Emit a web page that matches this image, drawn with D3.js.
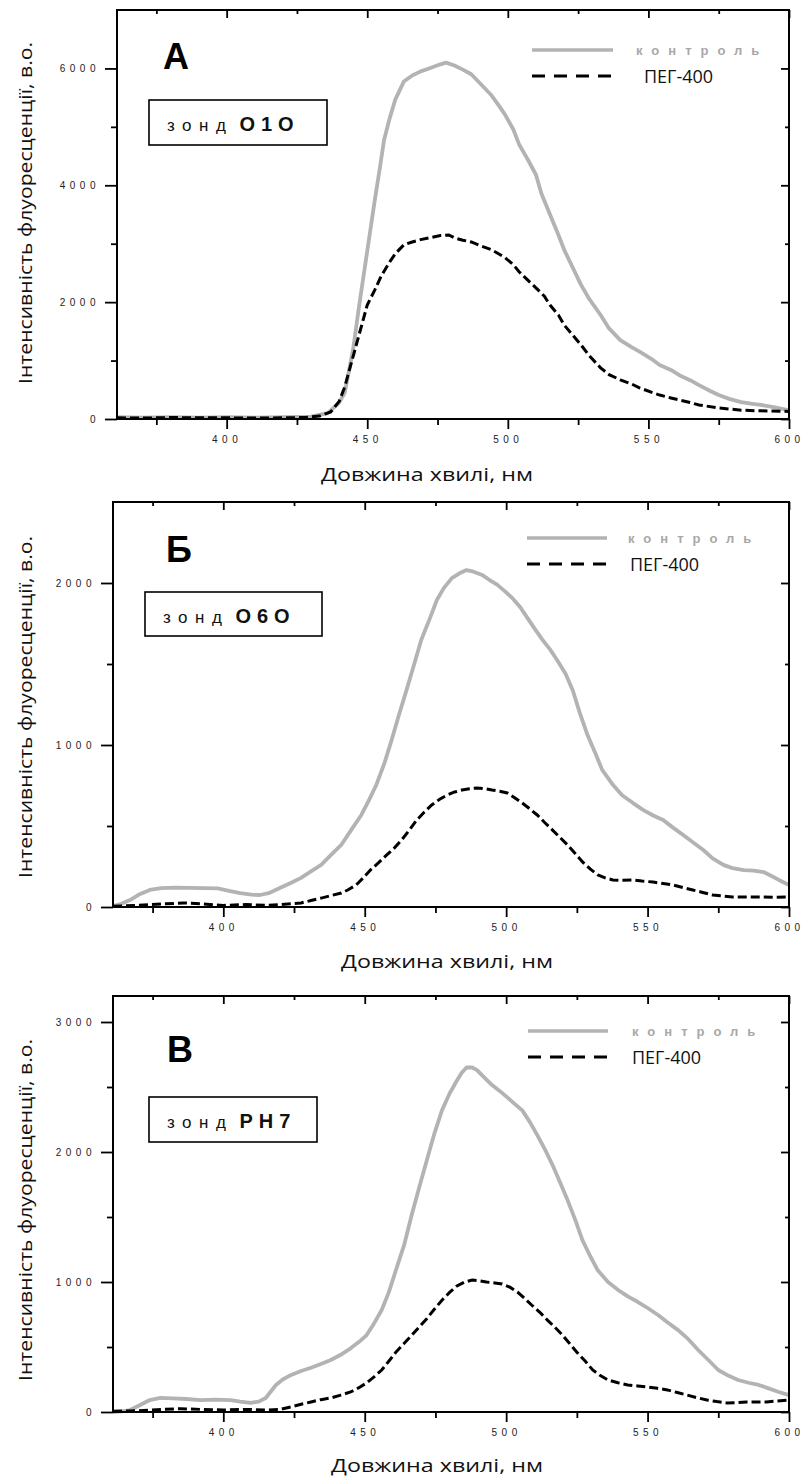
<!DOCTYPE html>
<html><head><meta charset="utf-8">
<script src="https://cdn.jsdelivr.net/npm/d3@7"></script>
<style>body{margin:0;background:#fff}</style>
</head><body>
<svg id="c" width="806" height="1479" xmlns="http://www.w3.org/2000/svg"></svg>
<script>
// ---------- text / tick data ----------
const seriesNames = ["контроль", "ПЕГ-400"];
const yTitle = "Інтенсивність флуоресценції, в.о.";
const xTitle = "Довжина хвилі, нм";
const panelLetters = ["А", "Б", "В"];
const probeWord = "зонд";
const probeNames = ["О1О", "О6О", "РН7"];
const xDomain = [361, 600];
const xMajor = [400, 450, 500, 550, 600];
const xMinor = [375, 425, 475, 525, 575];
const xTickLabels = ["400", "450", "500", "550", "600"];

const yMaxA = 7000, yMajorA = [0, 2000, 4000, 6000], yMinorA = [1000, 3000, 5000], yLabelsA = ["0", "2000", "4000", "6000"];
const yMaxB = 2500, yMajorB = [0, 1000, 2000], yMinorB = [500, 1500], yLabelsB = ["0", "1000", "2000"];
const yMaxC = 3200, yMajorC = [0, 1000, 2000, 3000], yMinorC = [500, 1500, 2500], yLabelsC = ["0", "1000", "2000", "3000"];

// ---------- series (wavelength nm, intensity) ----------
const wlCtrlA = [361,370,380,390,400,410,420,430,436,440,442,445,447,449,451,452.7,454.5,456,458,460,463,466,469,472,476,478,481,484,487,490,494,497,499,502,504,507,510,512,515,518,520,523,526,529,533,536,540,544,547,551,554,558,561,565,568,572,575,579,583,587,590,595,600];
const ctrlA   = [30,25,30,25,30,25,30,40,100,280,450,1200,1900,2550,3200,3750,4300,4780,5150,5470,5775,5880,5950,6000,6070,6100,6050,5980,5900,5750,5550,5350,5210,4950,4700,4450,4180,3850,3500,3150,2900,2600,2300,2050,1780,1550,1350,1230,1150,1030,925,840,750,660,580,480,410,340,290,260,240,200,150];
const wlPegA = [361,370,380,390,400,410,420,428,433,437,440,442,444,446,448,450,452.7,455,458,460,463,466,469,472,476,479,481,484,487,490,494,497,499,502,504,507,510,513,515,518,520,523,526,529,533,536,540,544,547,551,554,558,561,565,568,575,583,590,600];
const pegA   = [20,15,25,20,20,15,20,25,50,120,300,550,900,1250,1600,1950,2210,2450,2690,2830,2980,3030,3070,3100,3140,3150,3100,3060,3030,2970,2900,2820,2760,2640,2520,2380,2245,2100,1950,1780,1610,1440,1270,1080,875,760,670,600,530,460,410,360,325,280,240,190,150,140,130];

const wlCtrlB = [361,364,367,370,374,378,383,388,393,398,402,406,410,413,416,420,424,427.5,431,434.6,438,441.7,445,448.8,451.5,454,457,459.5,462,464.8,467.5,470,473,475.5,478,480.8,483.5,486,488.5,491.5,494,496.8,499.5,502,505,507.5,510,512.8,515.5,518,521,523.5,526,528.8,531.5,534,537.5,541,545,548.4,552,555.5,559,562.6,566,569.7,573,576.8,580,584,587.5,591,594,596.4,600];
const ctrlB   = [5,20,43,75,105,117,120,118,117,115,100,86,76,74,85,117,150,180,220,260,320,383,470,568,660,750,890,1030,1180,1340,1500,1650,1780,1895,1970,2030,2060,2080,2070,2050,2020,1990,1950,1910,1850,1785,1720,1650,1590,1525,1440,1340,1200,1060,950,845,760,690,640,600,565,537,490,444,400,352,300,260,240,228,225,216,190,167,136];
const wlPegB = [361,370,380,386,392,400,408,415,420,424,427.5,431,434.6,438,441.7,444,447,449.5,452,455,457.7,460.5,463,465.8,468.4,471,473.7,476.5,479,481.8,484.4,487,489.7,492.5,495,497.7,500.4,503,505.7,508.4,511,513.7,516.4,519,521.7,524.4,527,529.7,532.4,535,537.7,541,544.8,548,552,555.5,559,562.5,566,569.5,573,576.5,580,585,591,595,600];
const pegB   = [5,10,20,25,20,10,15,10,15,20,25,40,55,70,86,105,136,180,228,275,320,365,413,475,537,585,630,665,690,710,722,730,735,730,722,715,704,675,642,605,568,520,475,430,383,330,278,235,198,180,167,165,167,160,154,145,136,120,105,90,74,68,62,62,62,60,62];

const wlCtrlC = [361,364,367,370.6,374,377.7,382,387,392,397,402.6,406,409.7,412.5,415,418.6,421,424,427.5,431,434.5,438,441.5,445,448,450.6,453,456,458.5,461,464,466.6,469.3,472,474.6,477.3,480,482.6,484.3,486,488,489.7,492.4,495,497.7,500.4,503,505.7,508.4,511,513.7,516.4,519,521.7,524.4,527,529.7,532.4,536,539.5,543,546.6,550,553.7,557,560.8,564.4,567.9,571.5,575,578.5,582,585.7,589.3,593,596.4,600];
const ctrlC   = [0,5,15,54,92,108,105,100,92,95,92,80,70,80,108,208,250,285,315,340,370,400,440,490,540,590,670,785,920,1090,1290,1515,1730,1940,2140,2320,2450,2550,2610,2650,2650,2630,2570,2515,2470,2420,2370,2320,2230,2130,2020,1900,1770,1630,1480,1320,1200,1090,1000,940,890,846,800,746,690,630,560,477,400,323,280,246,225,208,180,154,130];
const wlPegC = [361,370,378,385,392,400,408,415,420,424,427.5,431,434.5,438,441.5,445,447.8,450.6,453.3,456,458.5,461,463.8,466.6,469.3,472,474.6,477.3,480,482.6,485.3,488,490.5,493,496,498.6,501.3,504,506.5,509,512,514.6,517.3,519.9,522.5,525,528,530.6,533.3,536,539.5,543,546.5,550,553.5,557,560.5,564,567.5,571,574.5,578,581.5,585,592,596,600];
const pegC   = [5,10,20,25,20,15,20,15,20,40,60,77,95,108,130,154,185,223,270,323,390,460,525,590,655,720,790,860,920,970,1000,1015,1010,1000,992,985,960,923,875,823,765,707,650,592,525,460,390,323,280,246,225,208,200,192,182,170,150,130,110,92,80,70,72,77,77,85,92];

// ---------- layout ----------
const panels = [
  {letter: panelLetters[0], probe: probeNames[0], left: 117, right: 789, top: 10, bottom: 419, yMax: yMaxA, yMajor: yMajorA, yMinor: yMinorA, yLabels: yLabelsA,
   ctrl: d3.zip(wlCtrlA, ctrlA), peg: d3.zip(wlPegA, pegA),
   letterPos: [163, 69], box: [149, 100, 178, 45], legLine: [532, 613, 50], legText1: 636, legText2: 644, xTitleX: 427, xTitleY: 481, yTitleY: 213},
  {letter: panelLetters[1], probe: probeNames[1], left: 113, right: 789, top: 502, bottom: 907, yMax: yMaxB, yMajor: yMajorB, yMinor: yMinorB, yLabels: yLabelsB,
   ctrl: d3.zip(wlCtrlB, ctrlB), peg: d3.zip(wlPegB, pegB),
   letterPos: [166, 562], box: [145, 592, 177, 44], legLine: [527, 607, 538], legText1: 628, legText2: 630, xTitleX: 447, xTitleY: 968, yTitleY: 707},
  {letter: panelLetters[2], probe: probeNames[2], left: 113, right: 789, top: 996, bottom: 1412, yMax: yMaxC, yMajor: yMajorC, yMinor: yMinorC, yLabels: yLabelsC,
   ctrl: d3.zip(wlCtrlC, ctrlC), peg: d3.zip(wlPegC, pegC),
   letterPos: [167, 1062], box: [149, 1097, 168, 45], legLine: [528, 608, 1031], legText1: 632, legText2: 632, xTitleX: 437, xTitleY: 1472, yTitleY: 1210}
];

const svg = d3.select("#c");
const GRAY = "#b3b3b3";

panels.forEach(p => {
  const x = d3.scaleLinear().domain(xDomain).range([p.left, p.right]);
  const y = d3.scaleLinear().domain([0, p.yMax]).range([p.bottom, p.top]);
  const g = svg.append("g");

  const tickStyle = sel => {
    sel.select(".domain").remove();
    sel.selectAll(".tick line").attr("stroke", "#000").attr("stroke-width", 1.8);
    sel.selectAll(".tick text").attr("fill", "#222").attr("font-family", "Liberation Sans, Arial, sans-serif")
      .attr("font-size", 10).attr("letter-spacing", 4.5);
  };

  // left axis (outward ticks)
  g.append("g").attr("transform", `translate(${p.left},0)`)
    .call(d3.axisLeft(y).tickValues(p.yMajor).tickSize(12).tickPadding(5).tickFormat((d, i) => p.yLabels[i])).call(tickStyle);
  g.append("g").attr("transform", `translate(${p.left},0)`)
    .call(d3.axisLeft(y).tickValues(p.yMinor).tickSize(6).tickFormat("")).call(tickStyle);
  // right axis (inward ticks)
  g.append("g").attr("transform", `translate(${p.right},0)`)
    .call(d3.axisRight(y).tickValues(p.yMajor).tickSize(-8).tickFormat("")).call(tickStyle);
  g.append("g").attr("transform", `translate(${p.right},0)`)
    .call(d3.axisRight(y).tickValues(p.yMinor).tickSize(-4).tickFormat("")).call(tickStyle);
  // bottom axis (outward)
  g.append("g").attr("transform", `translate(0,${p.bottom})`)
    .call(d3.axisBottom(x).tickValues(xMajor).tickSize(10).tickPadding(7).tickFormat((d, i) => xTickLabels[i])).call(tickStyle);
  g.append("g").attr("transform", `translate(0,${p.bottom})`)
    .call(d3.axisBottom(x).tickValues(xMinor).tickSize(6).tickFormat("")).call(tickStyle);
  // top axis (inward)
  g.append("g").attr("transform", `translate(0,${p.top})`)
    .call(d3.axisTop(x).tickValues(xMajor).tickSize(-8).tickFormat("")).call(tickStyle);
  g.append("g").attr("transform", `translate(0,${p.top})`)
    .call(d3.axisTop(x).tickValues(xMinor).tickSize(-4).tickFormat("")).call(tickStyle);

  // series
  const line = d3.line().x(d => x(d[0])).y(d => y(d[1]));
  g.append("path").datum(p.ctrl).attr("d", line).attr("fill", "none").attr("stroke", GRAY).attr("stroke-width", 3.8).attr("stroke-linejoin", "round");
  g.append("path").datum(p.peg).attr("d", line).attr("fill", "none").attr("stroke", "#000").attr("stroke-width", 3).attr("stroke-dasharray", "9,4");

  // frame
  g.append("rect").attr("x", p.left).attr("y", p.top).attr("width", p.right - p.left).attr("height", p.bottom - p.top)
    .attr("fill", "none").attr("stroke", "#000").attr("stroke-width", 2);

  // panel letter
  g.append("text").attr("x", p.letterPos[0]).attr("y", p.letterPos[1]).text(p.letter)
    .attr("font-family", "Liberation Sans, Arial, sans-serif").attr("font-weight", "bold").attr("font-size", 36).attr("fill", "#000");

  // probe box
  g.append("rect").attr("x", p.box[0]).attr("y", p.box[1]).attr("width", p.box[2]).attr("height", p.box[3])
    .attr("fill", "#fff").attr("stroke", "#000").attr("stroke-width", 1.6);
  const bt = g.append("text").attr("x", p.box[0] + 18).attr("y", p.box[1] + 31)
    .attr("font-family", "Liberation Sans, Arial, sans-serif").attr("fill", "#111");
  bt.append("tspan").text(probeWord).attr("font-size", 17).attr("letter-spacing", 7.5);
  bt.append("tspan").text(p.probe).attr("dx", 6).attr("font-size", 20).attr("font-weight", "bold").attr("letter-spacing", 6);

  // legend
  g.append("line").attr("x1", p.legLine[0]).attr("x2", p.legLine[1]).attr("y1", p.legLine[2]).attr("y2", p.legLine[2])
    .attr("stroke", GRAY).attr("stroke-width", 3.5);
  g.append("text").attr("x", p.legText1).attr("y", p.legLine[2] + 5).text(seriesNames[0])
    .attr("font-family", "Liberation Sans, Arial, sans-serif").attr("font-weight", "bold").attr("font-size", 13)
    .attr("letter-spacing", 9).attr("fill", "#a8a8a8");
  const ly = p.legLine[2] + 26;
  g.append("line").attr("x1", p.legLine[0]).attr("x2", p.legLine[1]).attr("y1", ly).attr("y2", ly)
    .attr("stroke", "#000").attr("stroke-width", 3).attr("stroke-dasharray", "13,9");
  g.append("text").attr("x", p.legText2).attr("y", ly + 7).text(seriesNames[1])
    .attr("font-family", "Open Sans, sans-serif").attr("font-size", 18).attr("fill", "#111");

  // axis titles
  g.append("text").attr("x", p.xTitleX).attr("y", p.xTitleY).attr("text-anchor", "middle").text(xTitle)
    .attr("font-family", "Open Sans, sans-serif").attr("font-size", 18).attr("fill", "#111")
    .attr("textLength", 212).attr("lengthAdjust", "spacingAndGlyphs");
  g.append("text").attr("transform", `translate(32,${p.yTitleY}) rotate(-90)`).attr("text-anchor", "middle").text(yTitle)
    .attr("font-family", "Open Sans, sans-serif").attr("font-size", 18).attr("fill", "#111")
    .attr("textLength", 342).attr("lengthAdjust", "spacingAndGlyphs");
});
</script>
</body></html>
